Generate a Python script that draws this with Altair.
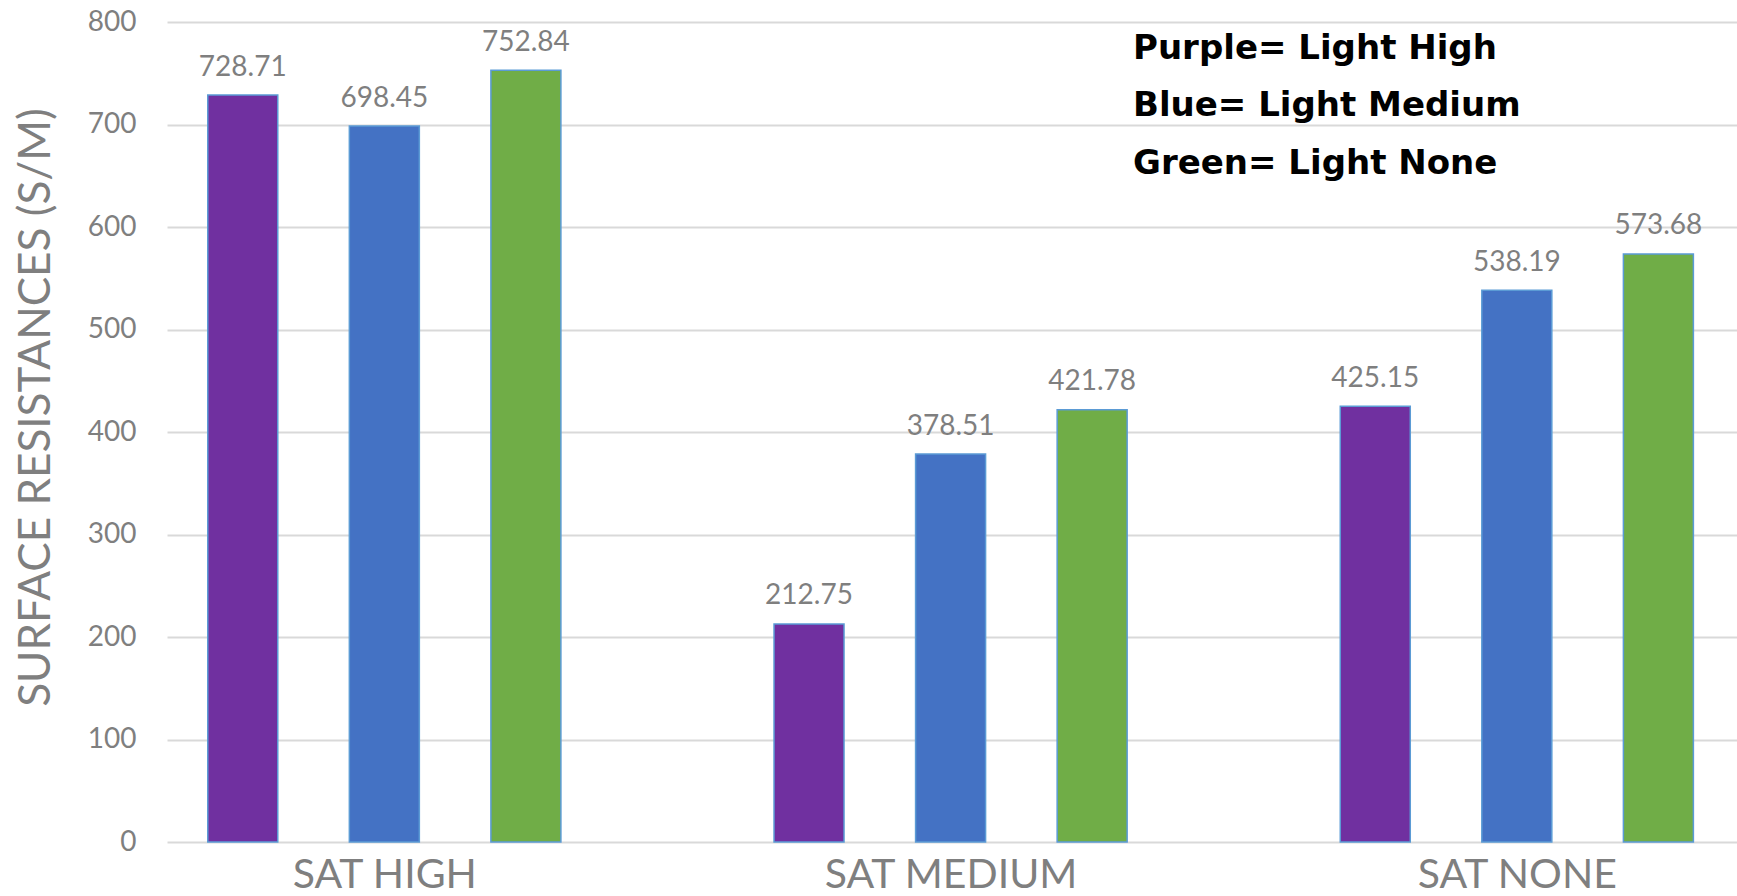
import json
import altair as alt
import pandas as pd

# Saturation groups along the x axis
categories = ["SAT HIGH", "SAT MEDIUM", "SAT NONE"]
# Light level series within each group
series = ["Light High", "Light Medium", "Light None"]
series_colors = ["#7030A0", "#4472C4", "#70AD47"]

# Surface resistance values (S/M), one list per light level
light_high = [728.71, 212.75, 425.15]
light_medium = [698.45, 378.51, 538.19]
light_none = [752.84, 421.78, 573.68]

legend_lines = ["Purple= Light High", "Blue= Light Medium", "Green= Light None"]
y_ticks = [0, 100, 200, 300, 400, 500, 600, 700, 800]

GROUP_STEP = 4  # three bars plus one empty slot between clusters

rows = []
for s_idx, (name, vals) in enumerate(zip(series, [light_high, light_medium, light_none])):
    for c_idx, (cat, v) in enumerate(zip(categories, vals)):
        rows.append({
            "category": cat,
            "series": name,
            "value": v,
            "pos": c_idx * GROUP_STEP + s_idx,
            "label": f"{v:.2f}",
        })
df = pd.DataFrame(rows)

FONT = "Lato"
GREY = "#7F7F7F"

label_expr = f"{json.dumps(categories)}[(datum.value - 1) / {GROUP_STEP}]"

x_enc = alt.X(
    "pos:Q",
    scale=alt.Scale(domain=[-0.5, 10.52], nice=False, zero=False),
    axis=alt.Axis(
        values=[c * GROUP_STEP + 1 for c in range(len(categories))],
        labelExpr=label_expr,
        title=None,
        grid=False,
        domain=False,
        ticks=False,
        tickSize=0,
        labelFont=FONT,
        labelFontSize=41,
        labelColor=GREY,
        labelBaseline="alphabetic",
        labelPadding=45,
        labelLimit=600,
        labelOverlap=False,
    ),
)
y_enc = alt.Y(
    "value:Q",
    scale=alt.Scale(domain=[0, 800], nice=False),
    axis=alt.Axis(
        values=y_ticks,
        title="SURFACE RESISTANCES (S/M)",
        titleFont=FONT,
        titleFontSize=44,
        titleFontWeight="normal",
        titleColor=GREY,
        titleAngle=270,
        titleBaseline="alphabetic",
        titleAlign="center",
        titleX=-118,
        titleY=385,
        titleLimit=900,
        grid=True,
        gridColor="#D9D9D9",
        gridWidth=1.8,
        domain=False,
        ticks=False,
        labelFont=FONT,
        labelFontSize=28,
        labelColor=GREY,
        labelPadding=31,
    ),
)

bars = alt.Chart(df).mark_bar(size=70, stroke="#5B9BD5", strokeWidth=1.5).encode(
    x=x_enc,
    y=y_enc,
    color=alt.Color(
        "series:N",
        scale=alt.Scale(domain=series, range=series_colors),
        legend=None,
    ),
)

values_text = alt.Chart(df).mark_text(
    font=FONT, fontSize=28, color=GREY, baseline="alphabetic", align="center", dy=-19.5
).encode(x="pos:Q", y="value:Q", text="label:N")

key_text = alt.Chart(pd.DataFrame({"t": ["\n".join(legend_lines)]})).mark_text(
    font="DejaVu Sans",
    fontSize=34,
    fontWeight="bold",
    color="#000000",
    align="left",
    baseline="alphabetic",
    lineBreak="\n",
    lineHeight=57.5,
).encode(x=alt.value(966), y=alt.value(36.6), text="t:N")

chart = (
    alt.layer(bars, values_text, key_text)
    .properties(
        width=1570,
        height=820,
        padding={"left": 167, "top": 22, "right": 0, "bottom": 54},
        autosize=alt.AutoSizeParams(type="none"),
        background="white",
    )
    .configure_view(stroke=None)
)

chart.save("out.html", embed_options={"renderer": "svg", "actions": False})
